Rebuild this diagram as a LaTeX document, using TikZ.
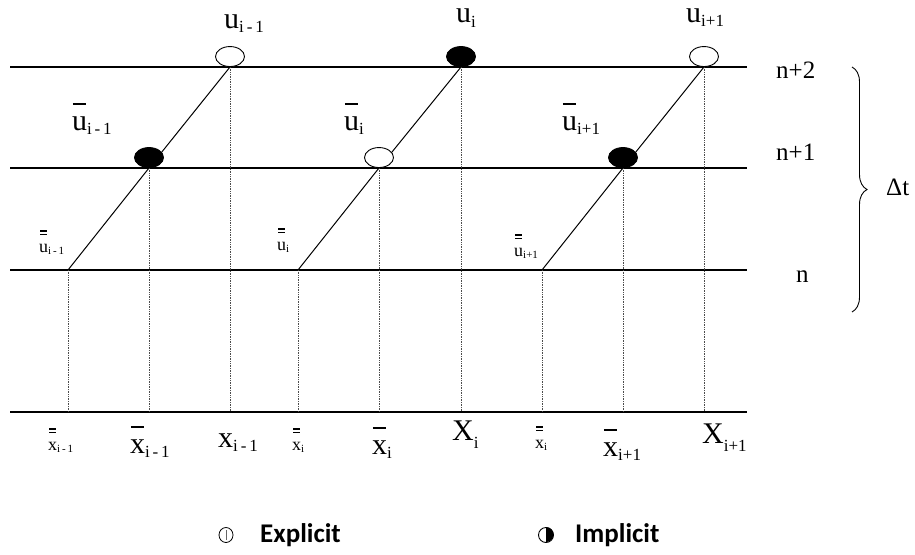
\documentclass[tikz,border=0pt]{standalone}
\usepackage{fontspec}
\setmainfont{Liberation Serif}
\newfontfamily\legfont{Carlito}
\usetikzlibrary{shapes.geometric,decorations.pathreplacing}
\newcommand\onebar[1]{\setbox0\hbox{#1}\vbox{\offinterlineskip\hbox to\wd0{\hss\vrule width .9\wd0 height .05em depth 0pt\hss}\kern .38em\box0}}
\newcommand\twobar[1]{\setbox0\hbox{#1}\vbox{\offinterlineskip\hbox to\wd0{\hss\vrule width .75\wd0 height .06em depth 0pt\hss}\kern .12em\hbox to\wd0{\hss\vrule width .75\wd0 height .06em depth 0pt\hss}\kern .5em\box0}}
\newcommand\bigsub[1]{\raisebox{-.35ex}{\fontsize{17}{17}\selectfont #1}}
\newcommand\smallsub[1]{\raisebox{-.3ex}{\fontsize{11}{11}\selectfont #1}}
\begin{document}
\begin{tikzpicture}[x=1pt,y=-1pt,
  hline/.style={line width=1.3pt},
  slant/.style={line width=1pt},
  guide/.style={densely dotted,line width=0.7pt,black!70},
  opendot/.style={ellipse,draw,line width=0.9pt,fill=white,minimum width=29pt,minimum height=20pt,inner sep=0pt,anchor=south},
  filldot/.style={ellipse,draw,line width=0.9pt,fill=black,minimum width=29pt,minimum height=20pt,inner sep=0pt,anchor=south},
  biglab/.style={anchor=base west,inner sep=0pt,font=\fontsize{30}{30}\selectfont},
  toplab/.style={biglab,text height=15pt},
  smalllab/.style={anchor=base west,inner sep=0pt,font=\fontsize{18}{18}\selectfont},
  sidelab/.style={anchor=base west,inner sep=0pt,font=\fontsize{25}{25}\selectfont},
  leg/.style={anchor=base west,inner sep=0pt,font=\legfont\bfseries\fontsize{27}{27}\selectfont}]
\useasboundingbox (0,0) rectangle (915,554);
% horizontal lines
\coordinate (L2) at (10,67);  \coordinate (R2) at (747,67);
\coordinate (L1) at (10,168); \coordinate (R1) at (747,168);
\coordinate (L0) at (10,270); \coordinate (R0) at (747,270);
\coordinate (LB) at (10,412); \coordinate (RB) at (747,412);
\draw[hline] (L2) -- (R2);
\draw[hline] (L1) -- (R1);
\draw[hline] (L0) -- (R0);
\draw[hline] (LB) -- (RB);
% points
\coordinate (a0) at (68,270);  \coordinate (a1) at (149,168); \coordinate (a2) at (230,67);
\coordinate (b0) at (298,270); \coordinate (b1) at (379,168); \coordinate (b2) at (461,67);
\coordinate (c0) at (542,270); \coordinate (c1) at (623,168); \coordinate (c2) at (704,67);
\foreach \p in {a0,a1,a2,b0,b1,b2,c0,c1,c2}{\coordinate (\p b) at (\p |- LB);}
\foreach \p in {a0,a1,a2,b0,b1,b2,c0,c1,c2}{\draw[guide] (\p) -- (\p b);}
\draw[slant] (a0) -- (a1) -- (a2);
\draw[slant] (b0) -- (b1) -- (b2);
\draw[slant] (c0) -- (c1) -- (c2);
\node[opendot] (da2) at (a2) {};
\node[filldot] (da1) at (a1) {};
\node[filldot] (db2) at (b2) {};
\node[opendot] (db1) at (b1) {};
\node[opendot] (dc2) at (c2) {};
\node[filldot] (dc1) at (c1) {};
% top labels
\node[toplab] (t1) at (224,28) {u\bigsub{i\,-\,1}};
\node[toplab] (t2) at (456,23) {u\bigsub{i}};
\node[toplab] (t3) at (686,22) {u\bigsub{i+1}};
% middle labels
\node[biglab] (m1) at (72,130) {\onebar{u}\bigsub{i\,-\,1}};
\node[biglab] (m2) at (344,130) {\onebar{u}\bigsub{i}};
\node[biglab] (m3) at (562,130) {\onebar{u}\bigsub{i+1}};
% small labels
\node[smalllab] (s1) at (39,252) {\twobar{u}\smallsub{i\,-\,1}};
\node[smalllab] (s2) at (277,250) {\twobar{u}\smallsub{i}};
\node[smalllab] (s3) at (514,256) {\twobar{u}\smallsub{i+1}};
% bottom labels
\node[smalllab] (x1) at (48,450) {\twobar{x}\smallsub{i\,-\,1}};
\node[biglab] (x2) at (130,453) {\onebar{x}\bigsub{i\,-\,1}};
\node[biglab] (x3) at (218,447) {x\bigsub{i\,-\,1}};
\node[smalllab] (x4) at (292,450) {\twobar{x}\smallsub{i}};
\node[biglab] (x5) at (372,454) {\onebar{x}\bigsub{i}};
\node[biglab] (x6) at (452,440) {X\raisebox{-.6ex}{\fontsize{17}{17}\selectfont i}};
\node[smalllab] (x7) at (535,448) {\twobar{x}\smallsub{i}};
\node[biglab] (x8) at (603,456) {\onebar{x}\bigsub{i+1}};
\node[biglab] (x9) at (702,443) {X\raisebox{-.6ex}{\fontsize{17}{17}\selectfont i+1}};
% right labels
\node[sidelab] (n2) at (776,78) {n+2};
\node[sidelab] (n1) at (776,160) {n+1};
\node[sidelab] (n0) at (796,282) {n};
\coordinate (brT) at (852,67);
\coordinate (brB) at (852,312);
\draw[line width=0.9pt,decorate,decoration={brace,amplitude=15pt}] (brT) -- (brB);
\node[sidelab] (dt) at (886,195) {Δt};
% legend
\node[draw,ellipse,line width=0.8pt,minimum width=14pt,minimum height=15pt,inner sep=0pt] (lo) at (226,535) {};
\draw[line width=0.4pt,black!60] ([yshift=-5pt]lo.center) -- ([yshift=5pt]lo.center);
\node[leg] (le) at (260,542) {Explicit};
\node[circle,draw,line width=0.9pt,minimum size=15pt,inner sep=0pt] (li) at (546,535) {};
\fill (li.north) arc[start angle=90,end angle=-90,radius=7.5pt] -- cycle;
\node[leg] (lim) at (575,542) {Implicit};
\end{tikzpicture}
\end{document}
